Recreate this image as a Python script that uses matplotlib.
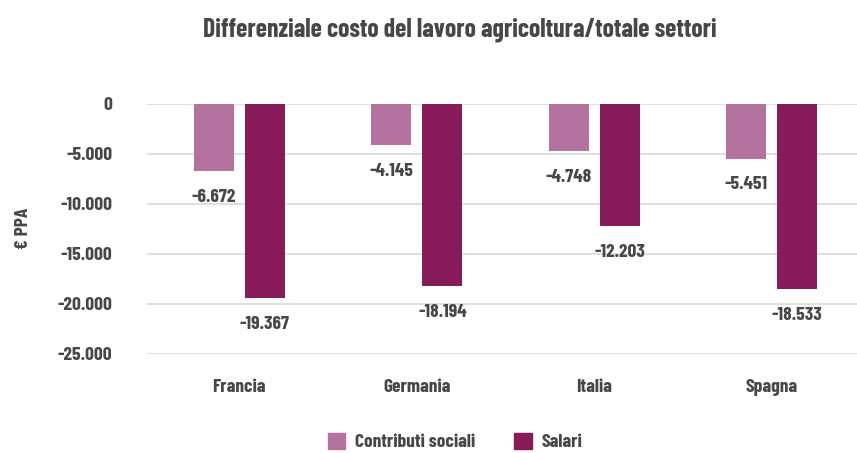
import numpy as np
import matplotlib
matplotlib.use("Agg")
from matplotlib import pyplot as plt
from matplotlib.patches import Patch

paesi = ["Francia", "Germania", "Italia", "Spagna"]
contributi = [-6672, -4145, -4748, -5451]
salari = [-19367, -18194, -12203, -18533]

col_contributi = "#b3739e"
col_salari = "#871a58"
col_testo = "#474747"

plt.rcParams['font.family'] = ['Barlow Condensed', 'DejaVu Sans']
plt.rcParams['font.weight'] = 700


def fmt(v):
    # thousands separator with a dot, as in Italian
    s = f"{abs(v):,}".replace(",", ".")
    return ("-" if v < 0 else "") + s


fig = plt.figure(figsize=(8.57, 4.53), dpi=100)
ax = fig.add_axes([147 / 857, 1 - 354 / 453, 710 / 857, 250 / 453])

x = np.arange(len(paesi))
w = 0.225
off = 0.144
ax.bar(x - off, contributi, w, color=col_contributi, zorder=2)
ax.bar(x + off, salari, w, color=col_salari, zorder=2)

# value labels under the end of each bar
for i in range(len(paesi)):
    ax.annotate(fmt(contributi[i]), (x[i] - off, contributi[i]), xytext=(0, -19),
                textcoords="offset points", ha="center", va="center",
                fontsize=14, color=col_testo)
    ax.annotate(fmt(salari[i]), (x[i] + off, salari[i]), xytext=(0, -19),
                textcoords="offset points", ha="center", va="center",
                fontsize=14, color=col_testo)

ax.set_xlim(-0.52, len(paesi) - 0.52)
ax.set_ylim(-25000, 0)
ax.set_yticks(np.arange(-25000, 1, 5000))
ax.set_yticklabels([fmt(v) for v in np.arange(-25000, 1, 5000)])
ax.set_xticks(x)
ax.set_xticklabels(paesi)
ax.tick_params(axis="both", length=0, labelsize=14, labelcolor=col_testo)
ax.tick_params(axis="y", pad=25)
ax.tick_params(axis="x", pad=18)
ax.yaxis.grid(True, color="#d9d9d9", linewidth=1.2, zorder=0)
ax.set_axisbelow(True)
for s in ax.spines.values():
    s.set_visible(False)

fig.text(23 / 857, 1 - 228 / 453, "€ PPA", rotation=90, ha="center", va="center",
         fontsize=14, color=col_testo)
fig.text(460 / 857, 1 - 30 / 453, "Differenziale costo del lavoro agricoltura/totale settori",
         ha="center", va="center", fontsize=18.5, color=col_testo)

handles = [Patch(color=col_contributi, label="Contributi sociali"),
           Patch(color=col_salari, label="Salari")]
fig.legend(handles=handles, loc="center", bbox_to_anchor=(455 / 857, 1 - 442 / 453),
           ncol=2, frameon=False, fontsize=14, handlelength=0.9, handleheight=0.9,
           columnspacing=2.0, handletextpad=0.5, labelcolor=col_testo)

fig.savefig("out.png", dpi=100, facecolor="white")
